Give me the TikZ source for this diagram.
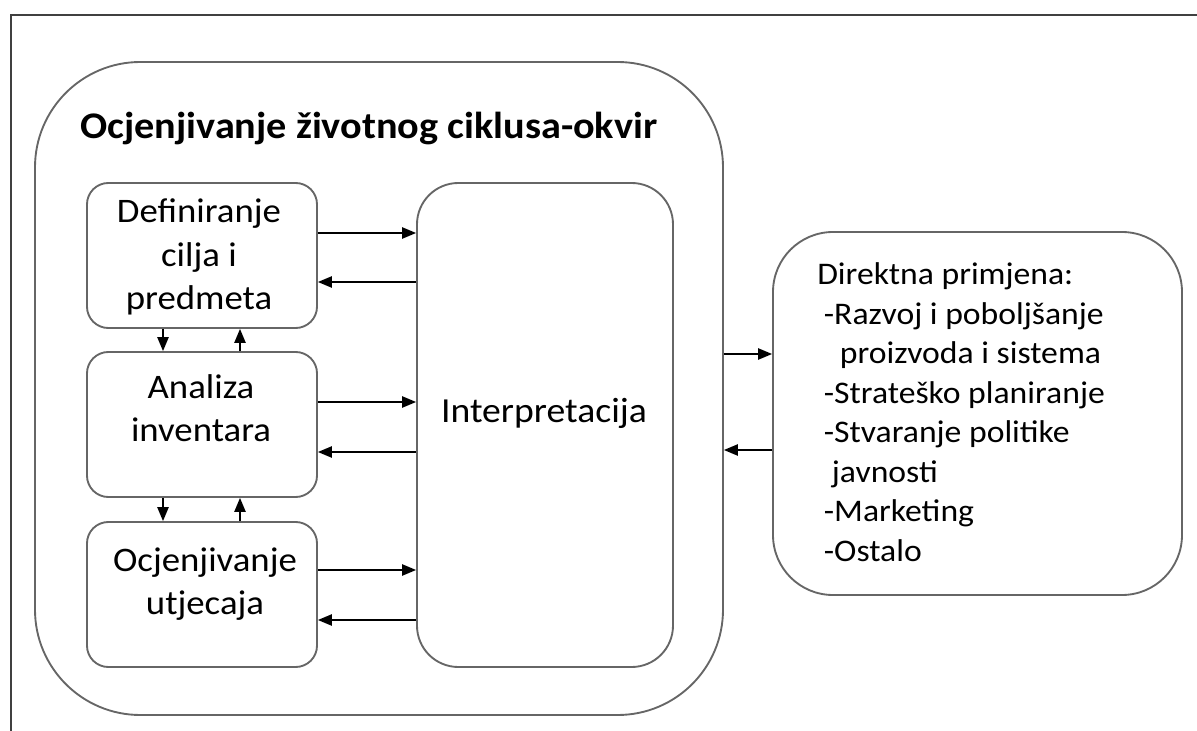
\documentclass[tikz,border=0pt]{standalone}
\usepackage{fontspec}
\setmainfont{Carlito}[FakeStretch=1.07]
\usetikzlibrary{arrows.meta,positioning}

\begin{document}
\begin{tikzpicture}[x=0.75pt,y=-0.75pt,
    box/.style={draw=black!60,line width=1.4pt,inner sep=0pt},
    faza/.style={box,rounded corners=16pt,minimum width=172.5pt,minimum height=108.75pt},
    txt/.style={align=center,inner sep=0pt,font=\fontsize{25.8}{32.5}\selectfont},
    arr/.style={-{Triangle[length=10.5pt,width=8.5pt]},line width=1.1pt}]
    \useasboundingbox (0,0) rectangle (1197,731);
    % page frame
    \draw[black!75,line width=1.3pt] (11,731) -- (11,15) -- (1197,15);

    % framework
    \node[box,rounded corners=79pt,minimum width=516pt,minimum height=489.75pt] (okvir) at (379,388.5) {};
    \node[anchor=base west,inner sep=0pt,font=\bfseries\fontsize{28.2}{30}\selectfont] (naslov) at (80,139) {Ocjenjivanje životnog ciklusa-okvir};

    \node[faza] (def) at (202,255.5) {};
    \node[faza] (inv) at (202,424.5) {};
    \node[faza] (ocj) at (202,594.5) {};
    \node[txt] (deftxt) at (199,257) {Definiranje\\cilja i\\predmeta};
    \node[txt] (invtxt) at (201,408) {Analiza\\inventara};
    \node[txt] (ocjtxt) at (205,584) {Ocjenjivanje\\utjecaja};

    \node[box,rounded corners=31pt,minimum width=192pt,minimum height=363pt] (int) at (545,425) {};
    \node[txt,font=\fontsize{26.4}{32.5}\selectfont] (inttxt) at (544,413) {Interpretacija};

    % between the phases
    \coordinate (xd) at (163,0);
    \coordinate (xu) at (240,0);
    \draw[arr] (def.south -| xd) -- (inv.north -| xd);
    \draw[arr] (inv.north -| xu) -- (def.south -| xu);
    \draw[arr] (inv.south -| xd) -- (ocj.north -| xd);
    \draw[arr] (ocj.north -| xu) -- (inv.south -| xu);

    % phases <-> interpretation
    \foreach \f/\ya/\yb in {def/233/282,inv/402/452,ocj/570/620} {
        \coordinate (ya) at (0,\ya);
        \coordinate (yb) at (0,\yb);
        \draw[arr] (\f.east |- ya) -- (int.west |- ya);
        \draw[arr] (int.west |- yb) -- (\f.east |- yb);
    }

    % applications
    \node[box,rounded corners=45pt,minimum width=306.75pt,minimum height=272.25pt] (primjena) at (977.5,413.5) {};
    \node[anchor=base west,align=left,inner sep=0pt,font=\fontsize{23.6}{29.6}\selectfont] (primjenatxt) at (817,561) {Direktna primjena:\\
        \hspace*{5pt}-Razvoj i poboljšanje\\
        \hspace*{17pt}proizvoda i sistema\\
        \hspace*{5pt}-Strateško planiranje\\
        \hspace*{5pt}-Stvaranje politike\\
        \hspace*{11pt}javnosti\\
        \hspace*{5pt}-Marketing\\
        \hspace*{5pt}-Ostalo};

    \coordinate (y1) at (0,354);
    \coordinate (y2) at (0,450);
    \draw[arr] (okvir.east |- y1) -- (primjena.west |- y1);
    \draw[arr] (primjena.west |- y2) -- (okvir.east |- y2);
\end{tikzpicture}
\end{document}
